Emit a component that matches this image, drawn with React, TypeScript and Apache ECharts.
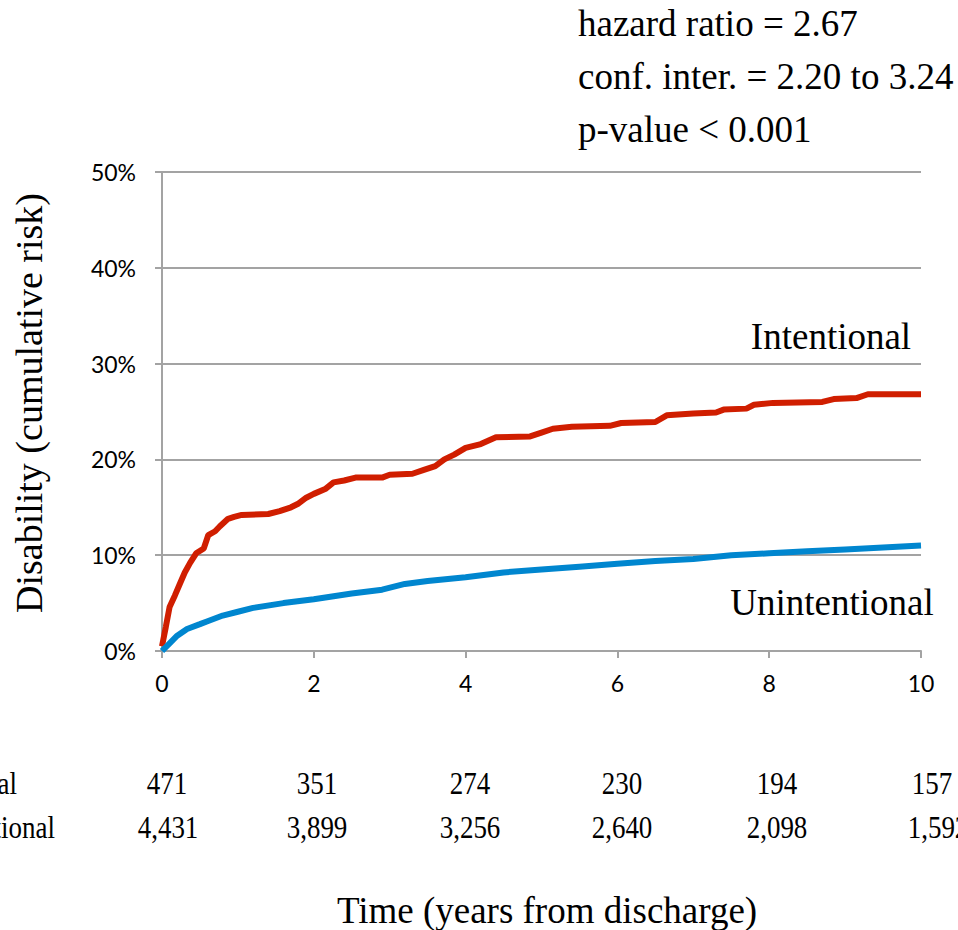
import React, { useEffect, useRef } from 'react';
import * as echarts from 'echarts';

// Cumulative risk (%) over time (years from discharge)
const intentionalCurve: [number, number][] = [
  [0, 0.5], [0.05, 2.5], [0.1, 4.6], [0.17, 5.8], [0.24, 7.1], [0.3, 8.2], [0.37, 9.2],
  [0.45, 10.2], [0.55, 10.7], [0.61, 12.1], [0.7, 12.5], [0.76, 13.0], [0.87, 13.8],
  [0.95, 14.0], [1.05, 14.2], [1.4, 14.3], [1.55, 14.6], [1.7, 15.0], [1.8, 15.4],
  [1.9, 16.0], [2.0, 16.4], [2.15, 16.9], [2.26, 17.6], [2.4, 17.8], [2.55, 18.1],
  [2.9, 18.1], [3.0, 18.4], [3.3, 18.5], [3.45, 18.9], [3.6, 19.3], [3.72, 20.0],
  [3.85, 20.5], [4.0, 21.2], [4.2, 21.6], [4.4, 22.3], [4.85, 22.4], [5.0, 22.8],
  [5.15, 23.2], [5.4, 23.4], [5.9, 23.5], [6.05, 23.8], [6.5, 23.9], [6.65, 24.6],
  [7.0, 24.8], [7.3, 24.9], [7.4, 25.2], [7.7, 25.3], [7.8, 25.7], [8.05, 25.9],
  [8.7, 26.0], [8.85, 26.3], [9.15, 26.4], [9.3, 26.8], [10.0, 26.8],
];

const unintentionalCurve: [number, number][] = [
  [0, 0], [0.1, 0.8], [0.2, 1.6], [0.33, 2.3], [0.5, 2.8], [0.6, 3.1], [0.8, 3.7],
  [1.0, 4.1], [1.2, 4.5], [1.6, 5.0], [2.0, 5.4], [2.5, 6.0], [2.9, 6.4], [3.2, 7.0],
  [3.5, 7.3], [4.0, 7.7], [4.5, 8.2], [5.0, 8.5], [5.5, 8.8], [6.0, 9.1], [6.5, 9.4],
  [7.0, 9.6], [7.5, 10.0], [8.0, 10.2], [8.5, 10.4], [9.0, 10.6], [9.5, 10.8], [10.0, 11.0],
];

const atRiskIntentional = ['471', '351', '274', '230', '194', '157'];
const atRiskUnintentional = ['4,431', '3,899', '3,256', '2,640', '2,098', '1,592'];
const statsLines = ['hazard ratio = 2.67', 'conf. inter. = 2.20 to 3.24', 'p-value < 0.001'];

const SERIF = '"Liberation Serif", "Times New Roman", serif';
const SANS = 'Lato, "Open Sans", sans-serif';
const GREY = '#a3a3a3';

export default function App() {
  const ref = useRef<HTMLDivElement>(null);

  useEffect(() => {
    document.body.style.margin = '0';
    if (!ref.current) return;
    const chart = echarts.init(ref.current, undefined, { renderer: 'svg' });

    const colX1 = [167, 317, 470, 622, 777, 932];
    const colX2 = [168, 317, 470, 622, 777, 938];
    const tableTexts: any[] = [];
    atRiskIntentional.forEach((t, i) => {
      tableTexts.push({
        type: 'text', x: colX1[i], y: 783, scaleX: 0.87,
        style: { text: t, font: `31px ${SERIF}`, fill: '#000', textAlign: 'center', textVerticalAlign: 'middle' },
      });
    });
    atRiskUnintentional.forEach((t, i) => {
      tableTexts.push({
        type: 'text', x: colX2[i], y: 827, scaleX: 0.87,
        style: { text: t, font: `31px ${SERIF}`, fill: '#000', textAlign: 'center', textVerticalAlign: 'middle' },
      });
    });

    const statTexts = statsLines.map((t, i) => ({
      type: 'text', x: 578, y: 23 + i * 53,
      style: { text: t, font: `37px ${SERIF}`, fill: '#000', textAlign: 'left', textVerticalAlign: 'middle' },
    }));

    chart.setOption({
      animation: false,
      backgroundColor: '#ffffff',
      grid: { left: 162, right: 37, top: 172, bottom: 279, containLabel: false },
      xAxis: {
        type: 'value', min: 0, max: 10, interval: 2,
        axisLine: { show: true, lineStyle: { color: GREY, width: 2 } },
        axisTick: { show: true, length: 7, inside: false, lineStyle: { color: GREY, width: 2 } },
        splitLine: { show: false },
        axisLabel: { margin: 20, color: '#000', fontSize: 23, fontFamily: SANS },
      },
      yAxis: {
        type: 'value', min: 0, max: 50, interval: 10,
        axisLine: { show: true, lineStyle: { color: GREY, width: 2 } },
        axisTick: { show: true, length: 7, inside: false, lineStyle: { color: GREY, width: 2 } },
        splitLine: { show: true, lineStyle: { color: GREY, width: 2 } },
        axisLabel: { margin: 26, color: '#000', fontSize: 23, fontFamily: SANS, formatter: '{value}%' },
      },
      series: [
        {
          name: 'Intentional', type: 'line', data: intentionalCurve, showSymbol: false,
          lineStyle: { color: '#d01e00', width: 6 }, itemStyle: { color: '#d01e00' }, z: 3,
        },
        {
          name: 'Unintentional', type: 'line', data: unintentionalCurve, showSymbol: false,
          lineStyle: { color: '#0086cf', width: 6 }, itemStyle: { color: '#0086cf' }, z: 4,
        },
      ],
      graphic: [
        ...statTexts,
        {
          type: 'text', x: 831, y: 336,
          style: { text: 'Intentional', font: `37px ${SERIF}`, fill: '#000', textAlign: 'center', textVerticalAlign: 'middle' },
        },
        {
          type: 'text', x: 832, y: 602,
          style: { text: 'Unintentional', font: `37px ${SERIF}`, fill: '#000', textAlign: 'center', textVerticalAlign: 'middle' },
        },
        {
          type: 'text', x: 29, y: 403, rotation: Math.PI / 2,
          style: { text: 'Disability (cumulative risk)', font: `38px ${SERIF}`, fill: '#000', textAlign: 'center', textVerticalAlign: 'middle' },
        },
        {
          type: 'text', x: 547, y: 910,
          style: { text: 'Time (years from discharge)', font: `37px ${SERIF}`, fill: '#000', textAlign: 'center', textVerticalAlign: 'middle' },
        },
        {
          type: 'text', x: 17, y: 783, scaleX: 0.87,
          style: { text: 'Intentional', font: `31px ${SERIF}`, fill: '#000', textAlign: 'right', textVerticalAlign: 'middle' },
        },
        {
          type: 'text', x: 55, y: 827, scaleX: 0.87,
          style: { text: 'Unintentional', font: `31px ${SERIF}`, fill: '#000', textAlign: 'right', textVerticalAlign: 'middle' },
        },
        ...tableTexts,
      ],
    });

    return () => chart.dispose();
  }, []);

  return <div ref={ref} style={{ width: 958, height: 930 }} />;
}
